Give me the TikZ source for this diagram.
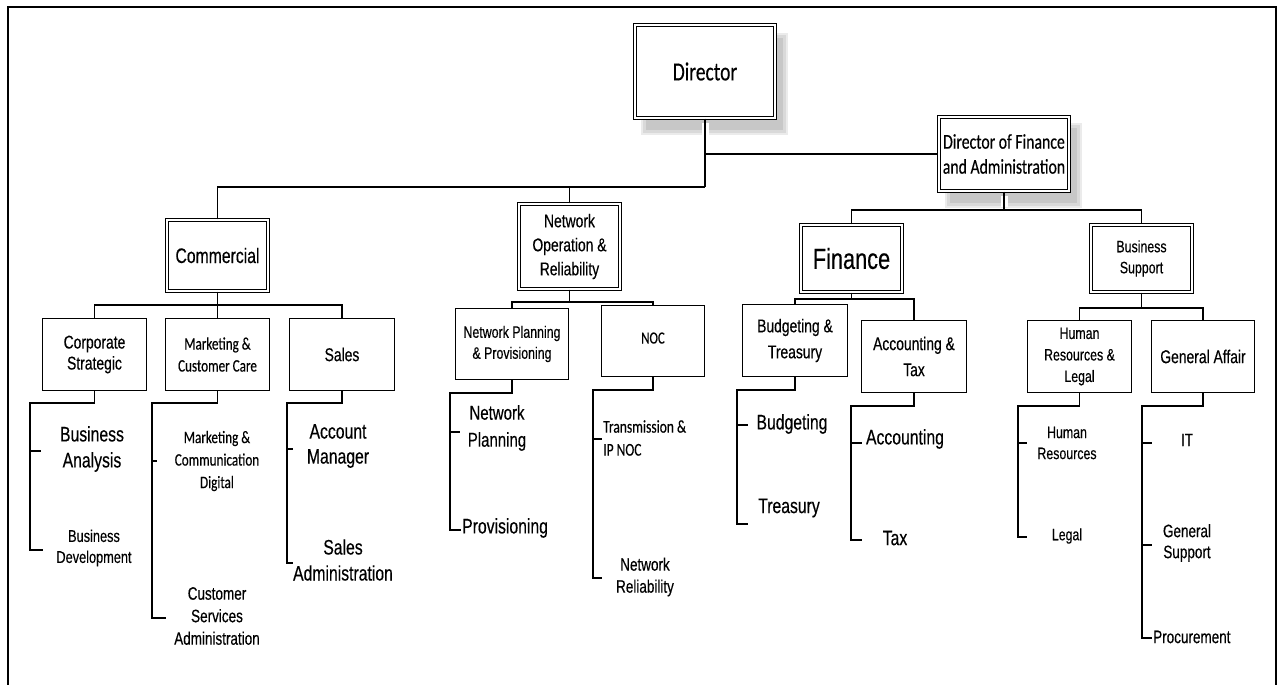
\documentclass[tikz,border=0pt]{standalone}
\usepackage{fontspec}
\newfontfamily\arl[FakeStretch=0.75,FakeBold=0.35]{Liberation Sans}
\newfontfamily\cbr[FakeStretch=0.75,FakeBold=0.35]{Carlito}
\newcommand\myfs[2]{\fontsize{#1pt}{#2pt}\selectfont}
\begin{document}
\begin{tikzpicture}[x=1pt,y=-1pt,
  conn/.style={line width=1.3pt},
  box/.style={draw, line width=1.3pt, fill=white, inner sep=0pt, align=center},
  dbox/.style={draw, double, line width=1.1pt, double distance=1.8pt, fill=white, inner sep=0pt, align=center},
  lbl/.style={inner sep=0pt, align=center},
  shadowA/.style={fill=black!8},
  shadowB/.style={fill=black!15},
  shadowC/.style={fill=black!22}]
\useasboundingbox (0,0) rectangle (1278,685);
% frame
\draw[line width=1.6pt] (8,690) -- (8,7) -- (1276,7) -- (1276,690);
% shadows
\fill[shadowA] (641,33) rectangle (788,135);
\fill[shadowB] (643,35) rectangle (786,133);
\fill[shadowC] (646,38) rectangle (783,130);
\fill[shadowA] (945,123) rectangle (1082,208);
\fill[shadowB] (947,125) rectangle (1080,206);
\fill[shadowC] (950,128) rectangle (1077,203);
% top level boxes
\node[dbox, line width=1.3pt, minimum width=140pt, minimum height=93pt, font=\cbr\myfs{26}{30}] (dir) at (705,71.5) {Director};
\node[dbox, line width=1.3pt, minimum width=130pt, minimum height=74pt, font=\cbr\myfs{21}{25}] (dfa) at (1004,154) {Director of Finance\\and Administration};
\node[dbox, minimum width=101pt, minimum height=71pt, font=\arl\myfs{21}{25}] (com) at (217.5,255.5) {Commercial};
\node[dbox, minimum width=101pt, minimum height=85pt, font=\arl\myfs{18.5}{24}] (nor) at (569.5,246.5) {Network\\Operation \&\\Reliability};
\node[dbox, line width=1.3pt, minimum width=101pt, minimum height=67pt, font=\arl\myfs{29}{32}] (fin) at (851.5,258.5) {Finance};
\node[dbox, line width=1.3pt, minimum width=101pt, minimum height=67pt, font=\arl\myfs{16.5}{21}] (bs) at (1141.5,258.5) {Business\\Support};
% second level boxes
\node[box, minimum width=103.5pt, minimum height=71.5pt, font=\arl\myfs{18.5}{21}] (cs) at (94.5,354.5) {Corporate\\Strategic};
\node[box, minimum width=103.5pt, minimum height=71.5pt, font=\cbr\myfs{17.5}{22}] (mcc) at (217.5,354.5) {Marketing \&\\Customer Care};
\node[box, minimum width=104.5pt, minimum height=71.5pt, font=\arl\myfs{18.5}{22}] (sal) at (342,354.5) {Sales};
\node[box, minimum width=112.5pt, minimum height=70.5pt, font=\arl\myfs{16.5}{21}] (npp) at (512,344) {Network Planning\\\& Provisioning};
\node[box, minimum width=102.5pt, minimum height=70.5pt, font=\cbr\myfs{17}{20}] (noc) at (653,341) {\raisebox{6pt}{NOC}};
\node[box, minimum width=104.5pt, minimum height=71.5pt, font=\arl\myfs{18.5}{26}] (bt) at (795,340.5) {Budgeting \&\\Treasury};
\node[box, minimum width=104.5pt, minimum height=71.5pt, font=\arl\myfs{18.5}{26}] (at) at (914,356.5) {Accounting \&\\Tax};
\node[box, minimum width=103.5pt, minimum height=71.5pt, font=\arl\myfs{16.5}{21.5}] (hrl) at (1079.5,356.5) {Human\\Resources \&\\Legal};
\node[box, minimum width=102.5pt, minimum height=71.5pt, font=\arl\myfs{18.5}{22}] (ga) at (1203,356.5) {General Affair};
% leaf labels
\node[lbl, font=\arl\myfs{21}{26}] (ba) at (92,449) {Business\\Analysis};
\node[lbl, font=\arl\myfs{17}{21}] (bd) at (94,548) {Business\\Development};
\node[lbl, font=\cbr\myfs{17.5}{22.5}] (mcd) at (217,461) {Marketing \&\\Communication\\Digital};
\node[lbl, font=\arl\myfs{18}{22.5}] (csa) at (217,616) {Customer\\Services\\Administration};
\node[lbl, font=\arl\myfs{21}{25}] (am) at (338,446) {Account\\Manager};
\node[lbl, font=\arl\myfs{21}{26}] (sa) at (343,560) {Sales\\Administration};
\node[lbl, font=\arl\myfs{20}{27}] (np) at (497,428) {Network\\Planning};
\node[lbl, font=\arl\myfs{21}{25}, anchor=west] (prov) at (462,528) {Provisioning};
\node[lbl, font=\cbr\myfs{18}{23}, anchor=west, align=left] (tip) at (603,438) {Transmission \&\\IP NOC};
\node[lbl, font=\arl\myfs{18}{22}] (nr) at (645,577) {Network\\Reliability};
\node[lbl, font=\arl\myfs{21}{25}] (bud) at (792,424) {Budgeting};
\node[lbl, font=\arl\myfs{21}{25}] (tre) at (789,508) {Treasury};
\node[lbl, font=\arl\myfs{21}{25}] (acc) at (905,439) {Accounting};
\node[lbl, font=\arl\myfs{21}{25}] (tax) at (895,538) {Tax};
\node[lbl, font=\arl\myfs{16.5}{21}] (hr) at (1067,443) {Human\\Resources};
\node[lbl, font=\arl\myfs{16.5}{21}] (leg) at (1067,536) {Legal};
\node[lbl, font=\arl\myfs{18}{21}] (it) at (1187,440) {IT};
\node[lbl, font=\arl\myfs{18}{21}] (gs) at (1187,543) {General\\Support};
\node[lbl, font=\arl\myfs{18}{21}, anchor=west] (proc) at (1153,637) {Procurement};
% bus levels
\coordinate (b0) at (0,187);
\coordinate (b1) at (0,155);
\coordinate (b2) at (0,210);
\coordinate (bc) at (0,305);
\coordinate (bn) at (0,302);
\coordinate (bf) at (0,299);
\coordinate (bb) at (0,308);
% top connectors
\draw[white, line width=7pt] ([yshift=-4pt]dir.south) -- (dir.south |- b1);
\draw[white, line width=7pt] ([yshift=-4pt]dfa.south) -- ([yshift=3pt]dfa.south |- b2);
\draw[conn] (dir.south) -- (dir.south |- b0);
\draw[conn] (com.north) |- (dir.south |- b0);
\draw[conn] (nor.north) -- (nor.north |- b0);
\draw[conn] (dir.south |- dfa.west) -- (dfa.west);
\draw[conn] (dfa.south) -- (dfa.south |- b2);
\draw[conn] (fin.north) |- (dfa.south |- b2) -| (bs.north);
% second level connectors
\draw[conn] (com.south) -- (mcc.north);
\draw[conn] (cs.north) |- (com.south |- bc) -| (sal.north);
\draw[conn] (nor.south) -- (nor.south |- bn);
\draw[conn] (npp.north) |- (nor.south |- bn) -| (noc.north);
\draw[conn] (fin.south) -- (fin.south |- bf);
\draw[conn] (bt.north) |- (fin.south |- bf) -| (at.north);
\draw[conn] (bs.south) -- (bs.south |- bb);
\draw[conn] (hrl.north) |- (bs.south |- bb) -| (ga.north);
% leaf connectors
\coordinate (csT) at (30,403); \coordinate (csB) at (30,550);
\coordinate (cs1) at (41,451); \coordinate (cs2) at (43,550);
\draw[conn] (cs.south) |- (csT) -- (csB) -- (cs2);
\draw[conn] (csT |- cs1) -- (cs1);
\coordinate (mcT) at (152,403); \coordinate (mcB) at (152,618);
\coordinate (mc1) at (157,461); \coordinate (mc2) at (166,618);
\draw[conn] (mcc.south) |- (mcT) -- (mcB) -- (mc2);
\draw[conn] (mcT |- mc1) -- (mc1);
\coordinate (saT) at (287,403); \coordinate (saB) at (287,563);
\coordinate (sa1) at (293,449); \coordinate (sa2) at (293,563);
\draw[conn] (sal.south) |- (saT) -- (saB) -- (sa2);
\draw[conn] (saT |- sa1) -- (sa1);
\coordinate (npT) at (450,393); \coordinate (npB) at (450,530);
\coordinate (np1) at (460,432); \coordinate (np2) at (461,530);
\draw[conn] (npp.south) |- (npT) -- (npB) -- (np2);
\draw[conn] (npT |- np1) -- (np1);
\coordinate (noT) at (593,390); \coordinate (noB) at (593,578);
\coordinate (no1) at (602,439); \coordinate (no2) at (602,578);
\draw[conn] (noc.south) |- (noT) -- (noB) -- (no2);
\draw[conn] (noT |- no1) -- (no1);
\coordinate (btT) at (737,390); \coordinate (btB) at (737,524);
\coordinate (bt1) at (748,425); \coordinate (bt2) at (748,524);
\draw[conn] (bt.south) |- (btT) -- (btB) -- (bt2);
\draw[conn] (btT |- bt1) -- (bt1);
\coordinate (atT) at (851,406); \coordinate (atB) at (851,540);
\coordinate (at1) at (862,443); \coordinate (at2) at (862,540);
\draw[conn] (at.south) |- (atT) -- (atB) -- (at2);
\draw[conn] (atT |- at1) -- (at1);
\coordinate (hrT) at (1018,406); \coordinate (hrB) at (1018,537);
\coordinate (hr1) at (1027,443); \coordinate (hr2) at (1027,537);
\draw[conn] (hrl.south) |- (hrT) -- (hrB) -- (hr2);
\draw[conn] (hrT |- hr1) -- (hr1);
\coordinate (gaT) at (1142,406); \coordinate (gaB) at (1142,638);
\coordinate (ga1) at (1152,443); \coordinate (ga2) at (1152,545); \coordinate (ga3) at (1152,638);
\draw[conn] (ga.south) |- (gaT) -- (gaB) -- (ga3);
\draw[conn] (gaT |- ga1) -- (ga1);
\draw[conn] (gaT |- ga2) -- (ga2);
\end{tikzpicture}
\end{document}
